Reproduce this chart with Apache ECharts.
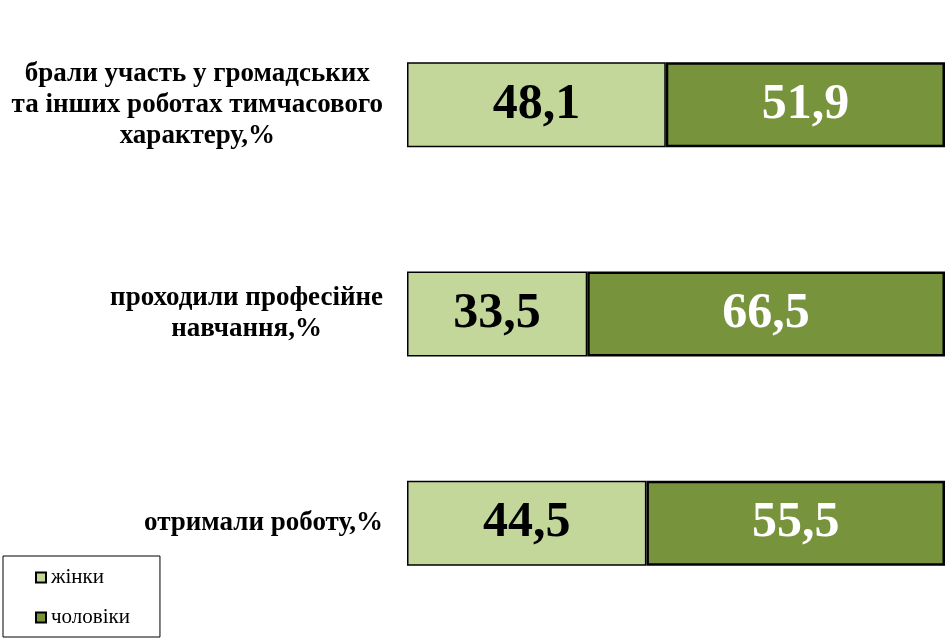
<!DOCTYPE html>
<html>
<head>
<meta charset="utf-8">
<script src="https://cdn.jsdelivr.net/npm/echarts@6/dist/echarts.min.js"></script>
<style>
  html, body { margin: 0; padding: 0; background: #fff; }
  #chart { width: 947px; height: 638px; }
</style>
</head>
<body>
<div id="chart"></div>
<script>
// категорії (зверху вниз)
var categories = [
  'брали участь у громадських\nта інших роботах тимчасового\nхарактеру,%',
  'проходили професійне\nнавчання,%',
  'отримали роботу,%'
];
var women = [48.1, 33.5, 44.5];
var men = [51.9, 66.5, 55.5];
var seriesNames = ['жінки', 'чоловіки'];

var font = '"Liberation Serif", "Times New Roman", serif';

var chart = echarts.init(document.getElementById('chart'));

function valueLabel(color) {
  return {
    show: true,
    position: 'inside',
    color: color,
    fontFamily: font,
    fontWeight: 'bold',
    fontSize: 50,
    formatter: function (p) {
      return String(p.value.toFixed(1)).replace('.', ',');
    }
  };
}

var option = {
  animation: false,
  grid: {
    left: 407,
    right: 2,
    top: 0,
    bottom: 10
  },
  legend: {
    orient: 'vertical',
    left: 3,
    top: 556,
    padding: [11, 30, 9, 32],
    borderColor: '#000',
    borderWidth: 1,
    itemWidth: 10,
    itemHeight: 10,
    itemGap: 19,
    icon: 'rect',
    textStyle: {
      fontFamily: font,
      fontSize: 21,
      color: '#000'
    },
    data: seriesNames
  },
  xAxis: {
    type: 'value',
    min: 0,
    max: 100,
    show: false
  },
  yAxis: {
    type: 'category',
    inverse: true,
    data: categories,
    axisLine: { show: false },
    axisTick: { show: false },
    axisLabel: {
      margin: 24,
      formatter: function (v) {
        return v.split('\n').map(function (l) { return '{c|' + l + '}'; }).join('\n');
      },
      rich: {
        c: {
          align: 'center',
          fontFamily: font,
          fontWeight: 'bold',
          fontSize: 27,
          lineHeight: 31,
          color: '#000'
        }
      }
    }
  },
  series: [
    {
      name: seriesNames[0],
      type: 'bar',
      stack: 'total',
      barWidth: 85,
      data: women,
      itemStyle: { color: '#C4D79B', borderColor: '#000', borderWidth: 1.5 },
      label: valueLabel('#000')
    },
    {
      name: seriesNames[1],
      type: 'bar',
      stack: 'total',
      barWidth: 85,
      data: men,
      itemStyle: { color: '#77933C', borderColor: '#000', borderWidth: 2.5 },
      label: valueLabel('#fff')
    }
  ]
};

chart.setOption(option);
</script>
</body>
</html>
